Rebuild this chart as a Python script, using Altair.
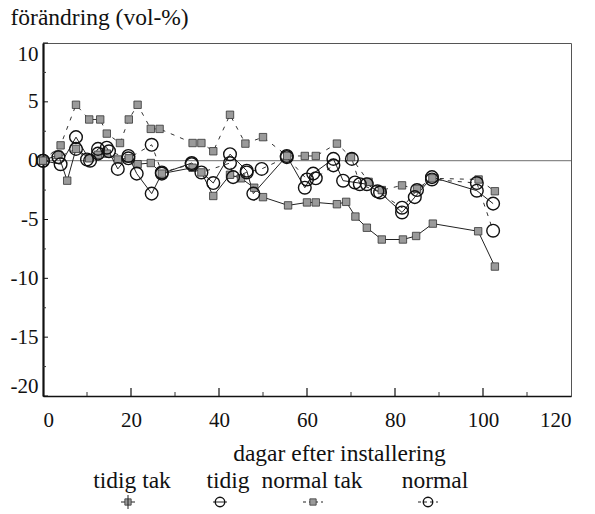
import altair as alt
import pandas as pd

# ---- data ----
tidig_tak_x = [0, 3.5, 5.5, 7.5, 10.5, 12.5, 14.5, 17, 19.5, 21.5, 24.5, 27, 34, 36, 38.7, 42.5, 45, 48, 50,
               55.7, 60, 62, 66.8, 68.9, 71, 73.6, 77, 81.8, 84.8, 88.6, 98.9, 102.7]
tidig_tak_y = [0, 0.5, -1.7, 1.0, 0.2, 0.5, 0.6, 0.1, 0.2, -0.3, -0.2, -1.1, -0.6, -1.0, -3.0, -1.2, -1.5, -2.3, -3.1,
               -3.8, -3.55, -3.55, -3.7, -3.5, -4.75, -5.7, -6.7, -6.7, -6.4, -5.35, -6.0, -9.0]

tidig_x = [0, 4, 7.5, 10.7, 12.5, 14.5, 17, 19.4, 21.3, 24.7, 27, 33.8, 38.7, 42.5, 46.3, 47.8, 55.4, 59.5, 61.4, 66,
           68.2, 70.9, 73.6, 76.6, 81.6, 84.5, 88.4, 98.6, 102.3]
tidig_y = [0, -0.3, 2.0, 0, 1.0, 1.1, -0.7, 0.4, -1.1, -2.8, -1.1, -0.2, -1.9, 0.55, -0.85, -2.8, 0.4, -2.3, -1.1, 0.15,
           -1.7, -1.85, -2.0, -2.7, -4.4, -3.1, -1.4, -2.55, -3.65]

normal_tak_x = [0, 4, 7.5, 10.5, 13, 14.5, 17.5, 19.5, 21.5, 24.5, 26.5, 34, 36, 38.7, 42.5, 46, 50, 55.5, 59.5, 62,
                66.8, 70, 74, 77, 81.6, 85, 88.5, 99, 102.7]
normal_tak_y = [0, 1.3, 4.75, 3.5, 3.5, 2.3, 1.5, 3.5, 4.75, 2.7, 2.7, 1.5, 1.5, 0.8, 3.9, 1.45, 2.0, 0.4, 0.4, 0.4,
                1.45, 0.3, -1.8, -2.5, -2.1, -2.4, -1.5, -1.6, -2.6]

normal_x = [0, 3.5, 7.5, 10, 12.5, 15, 19.4, 24.7, 27, 33.8, 36, 42.5, 43.2, 46.3, 49.7, 55.4, 60, 62, 66, 70.2,
            72, 76, 81.6, 85, 88.4, 98.6, 102.3]
normal_y = [0, 0.3, 1.0, 0.1, 0.6, 0.8, 0.2, 1.35, -1.0, -0.3, -1.0, -0.2, -1.4, -1.0, -0.7, 0.3, -1.6, -1.5, -0.4, 0.15,
            -2.0, -2.6, -4.0, -2.5, -1.6, -1.9, -5.95]

series_names = ["tidig tak", "tidig", "normal tak", "normal"]

x_ticks = [0, 20, 40, 60, 80, 100, 120]
x_minor = [10, 30, 50, 70, 90, 110]
y_ticks = [-20, -15, -10, -5, 0, 5, 10]
y_minor = [-17.5, -12.5, -7.5, -2.5, 2.5, 7.5]

FONT = "Liberation Serif, DejaVu Serif, serif"
W, H = 528, 353

xs = alt.Scale(domain=[0, 120], nice=False, zero=False)
ys = alt.Scale(domain=[-20, 10], nice=False, zero=False)

x_axis = alt.Axis(values=x_ticks, tickSize=0, labelPadding=13, labelFontSize=21, labelFont=FONT,
                  labelColor="#111", domainColor="#111", domainWidth=1.5, grid=False,
                  title="dagar efter installering", titleFont=FONT, titleFontSize=23.5,
                  titleFontWeight="normal", titleColor="#111", titleX=296, titleY=64,
                  titleBaseline="alphabetic", titleAlign="center")
y_axis = alt.Axis(values=y_ticks, tickSize=0, labelPadding=5, labelFontSize=21, labelFont=FONT,
                  labelColor="#111", labelFlush=True, labelExpr="'' + datum.value",
                  domainColor="#111", domainWidth=2.2, grid=False,
                  title="förändring (vol-%)", titleFont=FONT, titleFontSize=23.5, titleFontWeight="normal",
                  titleColor="#111", titleAngle=0, titleAlign="left", titleBaseline="alphabetic",
                  titleX=-33, titleY=-19)

X = lambda f="x": alt.X(f"{f}:Q", scale=xs, axis=x_axis)
Y = lambda f="y": alt.Y(f"{f}:Q", scale=ys, axis=y_axis)


def df(x, y):
    return pd.DataFrame({"x": x, "y": y})


layers = []
# zero line
layers.append(alt.Chart(pd.DataFrame({"y": [0]})).mark_rule(color="#8a8a8a", strokeWidth=1.2).encode(y=Y()))
# inward ticks
layers.append(alt.Chart(pd.DataFrame({"y": y_ticks})).mark_rule(color="#111", strokeWidth=1)
              .encode(y=Y(), x=alt.value(0), x2=alt.value(5)))
layers.append(alt.Chart(pd.DataFrame({"y": y_minor})).mark_rule(color="#333", strokeWidth=1)
              .encode(y=Y(), x=alt.value(0), x2=alt.value(3)))
layers.append(alt.Chart(pd.DataFrame({"x": x_ticks[1:-1]})).mark_rule(color="#111", strokeWidth=1.2)
              .encode(x=X(), y=alt.value(H), y2=alt.value(H - 8)))
layers.append(alt.Chart(pd.DataFrame({"x": x_minor})).mark_rule(color="#333", strokeWidth=1)
              .encode(x=X(), y=alt.value(H), y2=alt.value(H - 4)))

# lines
layers.append(alt.Chart(df(tidig_tak_x, tidig_tak_y)).mark_line(color="#222", strokeWidth=1).encode(x=X(), y=Y()))
layers.append(alt.Chart(df(tidig_x, tidig_y)).mark_line(color="#222", strokeWidth=1).encode(x=X(), y=Y()))
layers.append(alt.Chart(df(normal_tak_x, normal_tak_y)).mark_line(color="#333", strokeWidth=1, strokeDash=[4, 6])
              .encode(x=X(), y=Y()))
layers.append(alt.Chart(df(normal_x, normal_y)).mark_line(color="#333", strokeWidth=1, strokeDash=[4, 6])
              .encode(x=X(), y=Y()))

sq = dict(shape="square", filled=True, fill="#9a9a9a", stroke="#333", strokeWidth=0.8, size=55, opacity=1)
ci = dict(shape="circle", filled=False, stroke="#111", strokeWidth=1.4, size=160, opacity=1)
layers.append(alt.Chart(df(tidig_tak_x, tidig_tak_y)).mark_point(**sq).encode(x=X(), y=Y()))
layers.append(alt.Chart(df(normal_tak_x, normal_tak_y)).mark_point(**sq).encode(x=X(), y=Y()))
layers.append(alt.Chart(df(tidig_x, tidig_y)).mark_point(**ci).encode(x=X(), y=Y()))
layers.append(alt.Chart(df(normal_x, normal_y)).mark_point(**ci).encode(x=X(), y=Y()))

# ---- custom legend below the plot (label above symbol) ----
one = pd.DataFrame({"k": [0]})
leg_label_x = [89, 185, 269, 392]
leg_sym_x = [85, 177, 270, 385]
for i, name in enumerate(series_names):
    layers.append(alt.Chart(pd.DataFrame({"t": [name]})).mark_text(
        font=FONT, fontSize=23.5, color="#111", align="center", baseline="alphabetic")
        .encode(text="t:N", x=alt.value(leg_label_x[i]), y=alt.value(445)))
    sx = leg_sym_x[i]
    dash = [3, 3] if i >= 2 else [1, 0]
    half = 10 if i >= 2 else 7
    layers.append(alt.Chart(one).mark_rule(color="#222", strokeWidth=1, strokeDash=dash)
                  .encode(x=alt.value(sx - half), x2=alt.value(sx + half), y=alt.value(459)))
    if i in (0, 2):
        layers.append(alt.Chart(one).mark_point(**{**sq, "size": 40})
                      .encode(x=alt.value(sx), y=alt.value(459)))
        if i == 0:
            layers.append(alt.Chart(one).mark_rule(color="#222", strokeWidth=1)
                          .encode(x=alt.value(sx), y=alt.value(452), y2=alt.value(466)))
    else:
        layers.append(alt.Chart(one).mark_point(**{**ci, "size": 90})
                      .encode(x=alt.value(sx), y=alt.value(459)))

chart = alt.layer(*layers).properties(
    width=W, height=H,
    autosize=alt.AutoSizeParams(type="none"),
    padding={"left": 43, "top": 43, "right": 24, "bottom": 118},
    background="white",
).configure_view(stroke="#555", strokeWidth=1)

chart.save("out.html", embed_options={"renderer": "svg", "actions": False})
